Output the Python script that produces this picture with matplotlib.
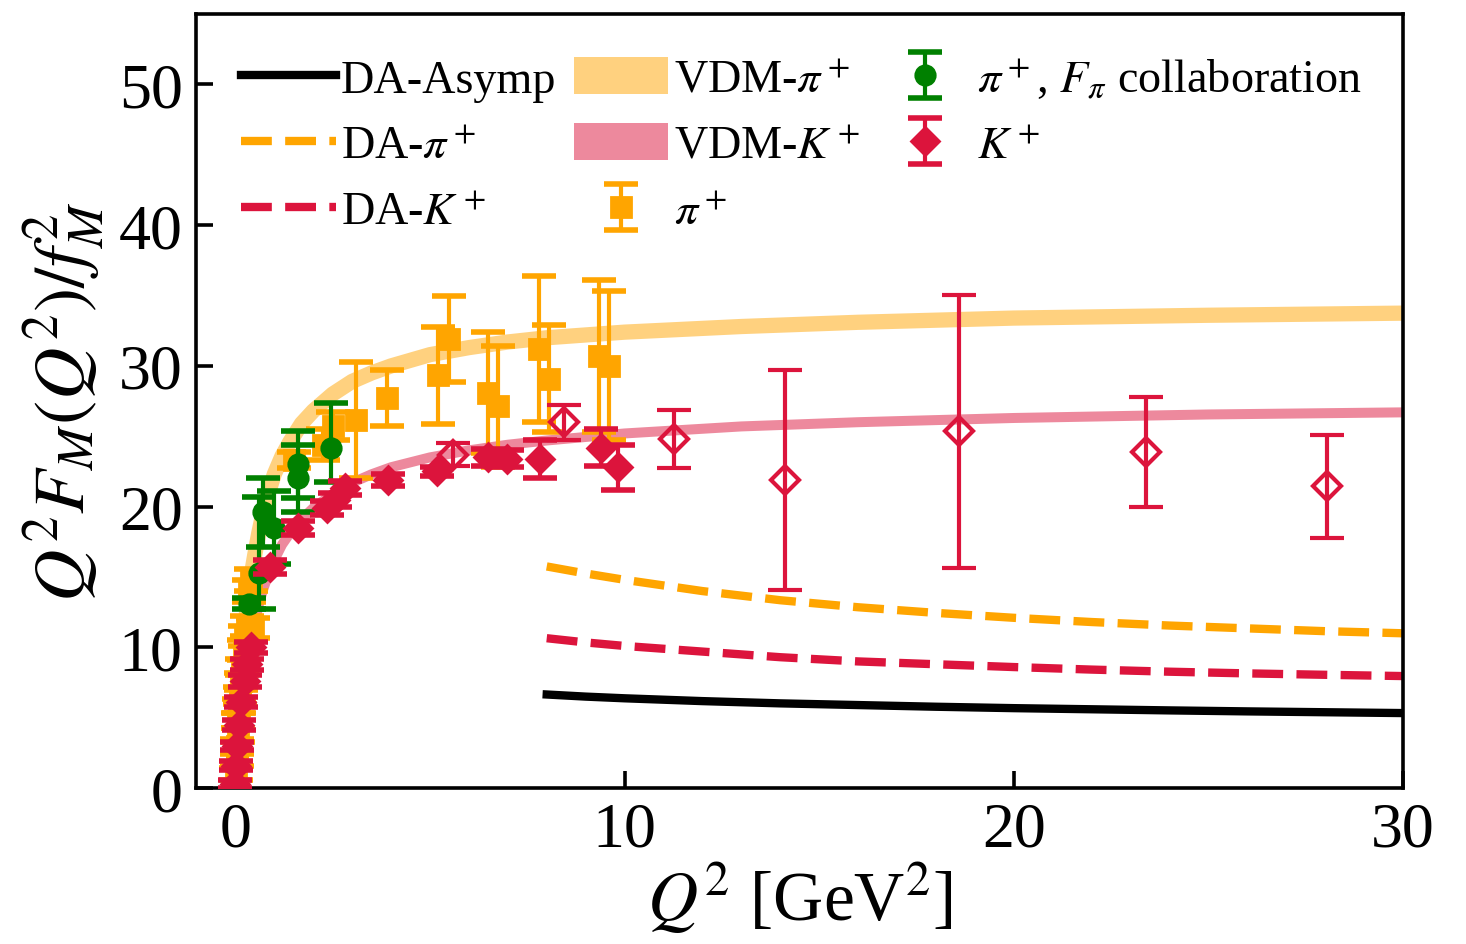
import matplotlib
matplotlib.use('Agg')
import matplotlib.pyplot as plt
from matplotlib.patches import Patch
from matplotlib.lines import Line2D

plt.rcParams['font.family'] = ['Liberation Serif', 'DejaVu Serif']
plt.rcParams['mathtext.fontset'] = 'stix'

# VDM bands
vdm_q2 = [0, 0.1, 0.2, 0.3, 0.4, 0.5, 0.6, 0.7, 0.85, 1.0, 1.2, 1.4, 1.7, 2.0, 2.5, 3, 3.5, 4,
          5, 6, 7, 8, 10, 13, 16, 20, 25, 30]
vdm_pi = [0, 5.6, 9.8, 12.9, 15.0, 16.6, 18.1, 19.4, 21.0, 22.3, 23.6, 24.6, 25.9, 26.8, 28.0,
          28.9, 29.5, 30.0, 30.8, 31.3, 31.7, 32.0, 32.4, 32.8, 33.1, 33.4, 33.6, 33.75]
vdm_k = [0, 3.5, 6.5, 8.8, 10.5, 11.8, 13.0, 14.0, 15.2, 16.2, 17.3, 18.1, 19.1, 19.9, 20.9,
         21.7, 22.3, 22.8, 23.5, 24.0, 24.4, 24.7, 25.2, 25.7, 26.0, 26.3, 26.55, 26.7]

# DA curves
da_q2 = [8, 9, 10, 12, 14, 16, 18, 20, 22, 24, 26, 28, 30]
da_asymp = [6.65, 6.5, 6.38, 6.18, 6.02, 5.9, 5.78, 5.68, 5.6, 5.52, 5.45, 5.39, 5.33]
da_pi = [15.75, 15.25, 14.8, 14.0, 13.35, 12.85, 12.45, 12.1, 11.8, 11.55, 11.35, 11.15, 11.0]
da_k = [10.65, 10.35, 10.1, 9.7, 9.3, 9.0, 8.8, 8.6, 8.42, 8.27, 8.15, 8.05, 7.96]

# pi+ data (squares)
pi_q2 = [0.015, 0.03, 0.045, 0.06, 0.08, 0.1, 0.12, 0.15, 0.18, 0.22, 0.26, 0.3, 0.35, 0.45, 0.4,
         1.5, 2.25, 2.5, 3.1, 3.9, 5.2, 5.5, 6.5, 6.75, 7.8, 8.06, 9.34, 9.6]
pi_y = [1.0, 2.0, 3.0, 3.8, 4.8, 5.8, 6.6, 7.6, 8.6, 9.8, 10.8, 11.5, 14.0, 11.4, 14.8,
        23.3, 24.4, 25.7, 26.15, 27.7, 29.35, 31.9, 28.1, 27.15, 31.2, 29.1, 30.7, 30.0]
pi_err = [0.4, 0.4, 0.5, 0.5, 0.5, 0.5, 0.6, 0.6, 0.6, 0.7, 0.7, 0.7, 0.8, 0.7, 0.8,
          0.55, 1.1, 1.0, 4.1, 2.0, 3.45, 3.05, 4.3, 4.3, 5.2, 3.8, 5.4, 5.3]

# pi+ F_pi collaboration (circles)
fpi_q2 = [0.35, 0.6, 0.7, 1.0, 1.6, 1.6, 2.45]
fpi_y = [13.1, 15.3, 19.6, 18.5, 23.0, 22.0, 24.2]
fpi_lo = [0.4, 2.6, 2.45, 2.6, 2.4, 2.4, 2.45]
fpi_hi = [0.4, 5.4, 2.45, 2.6, 2.4, 2.4, 3.2]

# K+ data (filled diamonds)
k_q2 = [0.0, 0.02, 0.05, 0.1, 0.15, 0.25, 0.3, 0.4, 0.9, 1.6, 2.35, 2.56, 2.82, 3.93, 5.17,
        6.5, 6.97, 7.82, 9.4, 9.83]
k_y = [0.3, 1.6, 3.0, 4.5, 6.1, 7.6, 8.8, 10.0, 15.7, 18.5, 19.9, 20.5, 21.35, 21.9, 22.5,
       23.5, 23.4, 23.4, 24.2, 22.8]
k_err = [0.3, 0.3, 0.3, 0.35, 0.35, 0.4, 0.4, 0.4, 0.5, 0.5, 0.5, 0.5, 0.5, 0.4, 0.35,
         0.6, 0.6, 1.35, 1.3, 1.6]

# K+ data (open diamonds)
ko_q2 = [5.6, 8.44, 11.26, 14.13, 18.6, 23.4, 28.05]
ko_y = [23.7, 26.0, 24.8, 21.9, 25.35, 23.9, 21.45]
ko_err = [0.8, 1.25, 2.05, 7.8, 9.7, 3.9, 3.65]

fig = plt.figure(figsize=(7.33, 4.725), dpi=200)
ax = fig.add_axes([0.134, 0.165, 0.823, 0.819])

ax.plot(vdm_q2, vdm_pi, color='orange', alpha=0.5, lw=5.5, solid_capstyle='butt', zorder=1)
ax.plot(vdm_q2, vdm_k, color='crimson', alpha=0.5, lw=3.6, solid_capstyle='butt', zorder=1)

ax.plot(da_q2, da_asymp, color='black', lw=3, zorder=2)
ax.plot(da_q2, da_pi, color='orange', lw=3, ls='--', zorder=2)
ax.plot(da_q2, da_k, color='crimson', lw=3, ls='--', zorder=2)

eb_kw = dict(capsize=6, elinewidth=1.5, capthick=2, markersize=7, ls='none')
h_pi = ax.errorbar(pi_q2, pi_y, yerr=pi_err, fmt='s', color='orange', zorder=3, **eb_kw)
h_fpi = ax.errorbar(fpi_q2, fpi_y, yerr=[fpi_lo, fpi_hi], fmt='o', color='green', zorder=4, **eb_kw)
h_k = ax.errorbar(k_q2, k_y, yerr=k_err, fmt='D', color='crimson', zorder=5, **eb_kw)
ax.errorbar(ko_q2, ko_y, yerr=ko_err, fmt='D', color='crimson', mfc='none', mec='crimson',
            mew=1.5, zorder=5, **eb_kw)

handles = [
    Line2D([], [], color='black', lw=3),
    Line2D([], [], color='orange', lw=3, ls='--'),
    Line2D([], [], color='crimson', lw=3, ls='--'),
    Patch(facecolor='orange', alpha=0.5, edgecolor='none'),
    Patch(facecolor='crimson', alpha=0.5, edgecolor='none'),
    h_pi, h_fpi, h_k,
]
labels = ['DA-Asymp', r'DA-$\pi^+$', r'DA-$K^+$', r'VDM-$\pi^+$', r'VDM-$K^+$', r'$\pi^+$',
          r'$\pi^+$, $F_\pi$ collaboration', r'$K^+$']
ax.legend(handles, labels, ncol=3, loc='upper left', frameon=False, fontsize=16.6,
          handlelength=2.05, handleheight=0.85, handletextpad=0.12, columnspacing=0.38,
          labelspacing=0.47, borderaxespad=0.2, bbox_to_anchor=(0.014, 0.98))

ax.set_xlim(-1, 30)
ax.set_ylim(0, 55)
ax.set_xticks([0, 10, 20, 30])
ax.set_yticks([0, 10, 20, 30, 40, 50])
ax.tick_params(direction='in', length=6, width=1.3, labelsize=23, pad=5)
for s in ax.spines.values():
    s.set_linewidth(1.3)
ax.set_xlabel(r'$Q^2$ [GeV$^2$]', fontsize=25, labelpad=0)
ax.set_ylabel(r'$Q^2F_M(Q^2)/f_M^2$', fontsize=26, labelpad=4)

fig.savefig('out.png', dpi=200)
